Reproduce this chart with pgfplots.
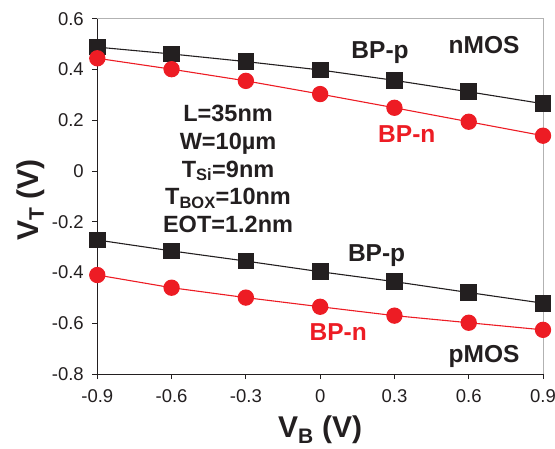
\documentclass[border=0pt]{standalone}
\usepackage{pgfplots}
\pgfplotsset{compat=1.18}
\usepackage{fontspec}
\setmainfont{Liberation Sans}
\usetikzlibrary{calc}
\definecolor{myred}{RGB}{237,28,36}
\definecolor{myblack}{RGB}{35,31,32}
\begin{document}
\begin{tikzpicture}
\begin{axis}[
  scale only axis, width=445.7pt, height=355.3pt,
  xmin=-0.9, xmax=0.9, ymin=-0.8, ymax=0.6,
  xtick={-0.9,-0.6,-0.3,0,0.3,0.6,0.9},
  xticklabels={-0.9,-0.6,-0.3,0,0.3,0.6,0.9},
  ytick={-0.8,-0.6,-0.4,-0.2,0,0.2,0.4,0.6},
  yticklabels={-0.8,-0.6,-0.4,-0.2,0,0.2,0.4,0.6},
  tick label style={font=\fontsize{18.5}{20}\selectfont, text=myblack},
  xticklabel style={yshift=-7pt},
  yticklabel style={xshift=-5pt},
  tick align=outside, major tick length=5pt,
  tick style={myblack, line width=0.8pt},
  axis x line*=bottom, axis y line*=left,
  axis line style={myblack, line width=1pt},
  xlabel={\bfseries V\textsubscript{B} (V)},
  ylabel={\bfseries V\textsubscript{T} (V)},
  xlabel style={at={(axis description cs:0.5,-0.158)}, anchor=center, font=\fontsize{30}{32}\selectfont, text=myblack},
  ylabel style={at={(axis description cs:-0.1503,0.49)}, anchor=center, font=\fontsize{30}{32}\selectfont, text=myblack},
  clip=false,
]
\draw[gray!60, line width=0.8pt] (rel axis cs:0,1) -- (rel axis cs:1,1) -- (rel axis cs:1,0);
% nMOS BP-p
\addplot[myblack, line width=1.1pt, mark=square*, mark size=7.8pt, mark options={solid, fill=myblack, draw=myblack}] coordinates {
(-0.9,0.488) (-0.6,0.461) (-0.3,0.431) (0,0.398) (0.3,0.357) (0.6,0.312) (0.9,0.265)};
% nMOS BP-n
\addplot[myred, line width=1.1pt, mark=*, mark size=7.6pt, mark options={solid, fill=myred, draw=myred}] coordinates {
(-0.9,0.444) (-0.6,0.401) (-0.3,0.355) (0,0.303) (0.3,0.249) (0.6,0.194) (0.9,0.139)};
% pMOS BP-p
\addplot[myblack, line width=1.1pt, mark=square*, mark size=7.8pt, mark options={solid, fill=myblack, draw=myblack}] coordinates {
(-0.9,-0.272) (-0.6,-0.315) (-0.3,-0.355) (0,-0.397) (0.3,-0.436) (0.6,-0.479) (0.9,-0.521)};
% pMOS BP-n
\addplot[myred, line width=1.1pt, mark=*, mark size=7.6pt, mark options={solid, fill=myred, draw=myred}] coordinates {
(-0.9,-0.410) (-0.6,-0.460) (-0.3,-0.499) (0,-0.535) (0.3,-0.570) (0.6,-0.598) (0.9,-0.626)};
% annotations
\node[anchor=base, text=myblack, font=\fontsize{24.5}{26}\selectfont\bfseries] at (axis cs:0.242,0.444) {BP-p};
\node[anchor=base, text=myblack, font=\fontsize{24.5}{26}\selectfont\bfseries] at (axis cs:0.662,0.464) {nMOS};
\node[anchor=base, text=myred, font=\fontsize{24.5}{26}\selectfont\bfseries] at (axis cs:0.350,0.1115) {BP-n};
\node[anchor=base, text=myblack, font=\fontsize{24.5}{26}\selectfont\bfseries] at (axis cs:0.228,-0.357) {BP-p};
\node[anchor=base, text=myred, font=\fontsize{24.5}{26}\selectfont\bfseries] at (axis cs:0.073,-0.669) {BP-n};
\node[anchor=base, text=myblack, font=\fontsize{24.5}{26}\selectfont\bfseries] at (axis cs:0.662,-0.754) {pMOS};
\node[anchor=base, text=myblack, font=\fontsize{23.5}{25}\selectfont\bfseries] at (axis cs:-0.372,0.194) {L=35nm};
\node[anchor=base, text=myblack, font=\fontsize{23.5}{25}\selectfont\bfseries] at (axis cs:-0.372,0.085) {W=10µm};
\node[anchor=base, text=myblack, font=\fontsize{23.5}{25}\selectfont\bfseries] at (axis cs:-0.372,-0.024) {T\textsubscript{Si}=9nm};
\node[anchor=base, text=myblack, font=\fontsize{23.5}{25}\selectfont\bfseries] at (axis cs:-0.372,-0.133) {T\textsubscript{BOX}=10nm};
\node[anchor=base, text=myblack, font=\fontsize{23.5}{25}\selectfont\bfseries] at (axis cs:-0.372,-0.242) {EOT=1.2nm};
\end{axis}
\pgfresetboundingbox
\path[use as bounding box] ($(current axis.south west)+(-97.3pt,-74pt)$) rectangle ($(current axis.north east)+(12pt,18.7pt)$);
\end{tikzpicture}
\end{document}
